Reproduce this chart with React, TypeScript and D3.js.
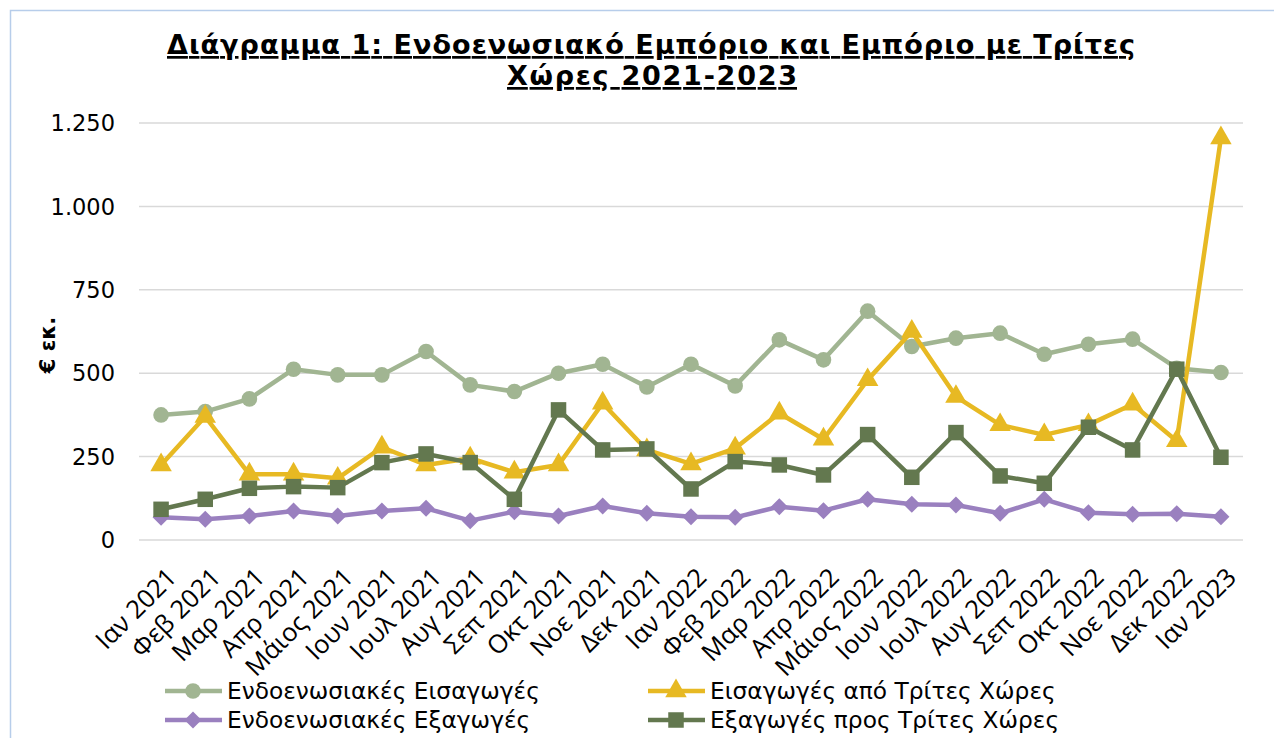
import React, { useEffect, useRef } from "react";
import * as d3 from "d3";

const categories = [
  "Ιαν 2021", "Φεβ 2021", "Μαρ 2021", "Απρ 2021", "Μάιος 2021", "Ιουν 2021", "Ιουλ 2021",
  "Αυγ 2021", "Σεπ 2021", "Οκτ 2021", "Νοε 2021", "Δεκ 2021", "Ιαν 2022", "Φεβ 2022",
  "Μαρ 2022", "Απρ 2022", "Μάιος 2022", "Ιουν 2022", "Ιουλ 2022", "Αυγ 2022", "Σεπ 2022",
  "Οκτ 2022", "Νοε 2022", "Δεκ 2022", "Ιαν 2023",
];

const intraImports = [375, 385, 423, 512, 495, 495, 565, 465, 445, 500, 527, 459, 527, 462, 600, 540, 686, 580, 605, 620, 557, 587, 602, 515, 502];
const thirdImports = [225, 370, 197, 197, 185, 278, 225, 245, 203, 225, 410, 270, 228, 275, 380, 302, 480, 625, 430, 345, 315, 345, 407, 297, 1205];
const intraExports = [68, 62, 72, 87, 72, 87, 95, 58, 85, 72, 102, 80, 70, 68, 100, 88, 122, 107, 105, 80, 122, 82, 77, 79, 70];
const thirdExports = [92, 122, 155, 160, 157, 232, 258, 232, 122, 390, 270, 273, 153, 235, 225, 195, 316, 188, 322, 192, 170, 338, 270, 512, 248];

const yTicks = [0, 250, 500, 750, 1000, 1250];

const series = [
  { name: "Ενδοενωσιακές Εισαγωγές", values: intraImports, color: "#a1b592", marker: "circle" },
  { name: "Εισαγωγές από Τρίτες Χώρες", values: thirdImports, color: "#e7b923", marker: "triangle" },
  { name: "Ενδοενωσιακές Εξαγωγές", values: intraExports, color: "#9a80bf", marker: "diamond" },
  { name: "Εξαγωγές προς Τρίτες Χώρες", values: thirdExports, color: "#63784f", marker: "square" },
];

const W = 1274;
const H = 738;
const plot = { left: 139, right: 1243, top: 123, bottom: 540 };

function drawMarker(g: any, type: string, x: number, y: number, color: string, scale = 1) {
  if (type === "circle") {
    g.append("circle").attr("cx", x).attr("cy", y).attr("r", 7.8 * scale).attr("fill", color);
  } else if (type === "square") {
    const s = 15.5 * scale;
    g.append("rect").attr("x", x - s / 2).attr("y", y - s / 2).attr("width", s).attr("height", s).attr("fill", color);
  } else if (type === "triangle") {
    const sym = d3.symbol().type(d3.symbolTriangle).size(200 * scale * scale);
    g.append("path").attr("d", sym()).attr("transform", `translate(${x},${y})`).attr("fill", color);
  } else if (type === "diamond") {
    const s = 8.5 * scale;
    g.append("path")
      .attr("d", `M${x},${y - s}L${x + s},${y}L${x},${y + s}L${x - s},${y}Z`)
      .attr("fill", color);
  }
}

export default function App() {
  const ref = useRef<SVGSVGElement | null>(null);

  useEffect(() => {
    document.body.style.margin = "0";
    const svg = d3.select(ref.current);
    svg.selectAll("*").remove();

    svg.append("rect").attr("x", 0).attr("y", 0).attr("width", W).attr("height", H).attr("fill", "#ffffff");
    svg.append("rect").attr("x", 10.5).attr("y", 10.5).attr("width", W + 20).attr("height", H + 20)
      .attr("fill", "none").attr("stroke", "#b7cdea").attr("stroke-width", 1.5);

    const x = d3.scaleBand<string>().domain(categories).range([plot.left, plot.right]);
    const y = d3.scaleLinear().domain([0, 1250]).range([plot.bottom, plot.top]);
    const cx = (c: string) => (x(c) as number) + x.bandwidth() / 2;

    // title
    const title = svg.append("text").attr("text-anchor", "middle")
      .attr("font-family", "DejaVu Sans").attr("font-weight", "bold").attr("font-size", 27)
      .attr("text-decoration", "underline").attr("fill", "#000");
    title.append("tspan").attr("x", 651).attr("y", 54)
      .attr("textLength", 968).attr("lengthAdjust", "spacing")
      .text("Διάγραμμα 1: Ενδοενωσιακό Εμπόριο και Εμπόριο με Τρίτες");
    title.append("tspan").attr("x", 652).attr("y", 85)
      .attr("textLength", 290).attr("lengthAdjust", "spacing")
      .text("Χώρες 2021-2023");

    // gridlines
    svg.append("g").selectAll("line").data(yTicks).join("line")
      .attr("x1", plot.left).attr("x2", plot.right)
      .attr("y1", (d) => y(d)).attr("y2", (d) => y(d))
      .attr("stroke", "#d9d9d9").attr("stroke-width", 1.5);

    // y labels
    const fmt = (d: number) => d3.format(",")(d).replace(/,/g, ".");
    svg.append("g").selectAll("text").data(yTicks).join("text")
      .attr("x", 115).attr("y", (d) => y(d)).attr("dy", "0.36em")
      .attr("text-anchor", "end").attr("font-family", "DejaVu Sans").attr("font-size", 22.5)
      .attr("fill", "#000").text((d) => fmt(d));

    // y title
    svg.append("text").attr("transform", `translate(55,345) rotate(-90)`)
      .attr("text-anchor", "middle").attr("font-family", "DejaVu Sans").attr("font-weight", "bold")
      .attr("font-size", 21).attr("fill", "#000").text("€ εκ.");

    // x labels
    svg.append("g").selectAll("text").data(categories).join("text")
      .attr("transform", (d) => `translate(${cx(d) + 4},${566}) rotate(-45)`)
      .attr("text-anchor", "end").attr("dy", "0.72em")
      .attr("font-family", "Open Sans").attr("font-size", 25.5).attr("fill", "#000")
      .text((d) => d);

    // lines
    const line = d3.line<number>().x((_, i) => cx(categories[i])).y((d) => y(d));
    [0, 1, 2, 3].forEach((si) => {
      const s = series[si];
      svg.append("path").attr("d", line(s.values)).attr("fill", "none")
        .attr("stroke", s.color).attr("stroke-width", 4.5).attr("stroke-linejoin", "round");
      const g = svg.append("g");
      s.values.forEach((v, i) => drawMarker(g, s.marker, cx(categories[i]), y(v), s.color));
    });

    // legend
    const legendPos = [
      { x: 165, y: 691 },
      { x: 648, y: 691 },
      { x: 165, y: 720 },
      { x: 648, y: 720 },
    ];
    series.forEach((s, i) => {
      const p = legendPos[i];
      const g = svg.append("g");
      g.append("line").attr("x1", p.x).attr("x2", p.x + 57).attr("y1", p.y).attr("y2", p.y)
        .attr("stroke", s.color).attr("stroke-width", 4.5);
      drawMarker(g, s.marker, p.x + 28, p.y, s.color, 1);
      g.append("text").attr("x", p.x + 62).attr("y", p.y).attr("dy", "0.36em")
        .attr("font-family", "DejaVu Sans").attr("font-size", 23.3).attr("fill", "#000").text(s.name);
    });
  }, []);

  return <svg ref={ref} width={W} height={H} style={{ display: "block" }} />;
}
